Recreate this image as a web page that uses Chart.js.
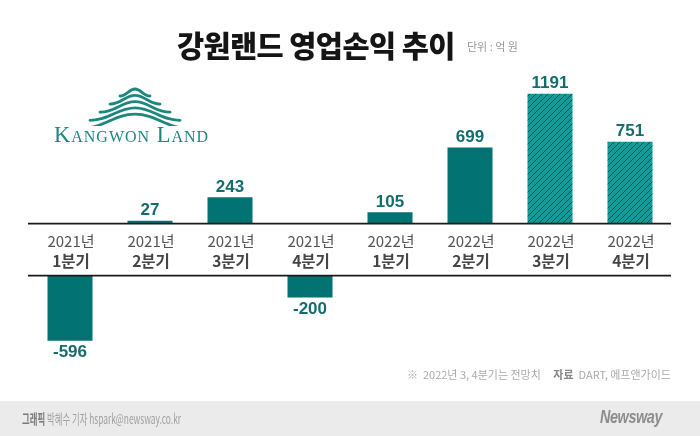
<!DOCTYPE html>
<html><head><meta charset="utf-8">
<script src="https://cdn.jsdelivr.net/npm/chart.js@4/dist/chart.umd.min.js"></script>
<style>
html,body{margin:0;padding:0;background:#fff;}
#wrap{position:relative;width:700px;height:436px;overflow:hidden;font-family:"Noto Sans CJK KR","Noto Sans",sans-serif;}
#c{position:absolute;left:0;top:0;}
.abs{position:absolute;white-space:nowrap;}
#title{left:177px;top:28px;font-size:29.5px;line-height:32px;font-weight:900;color:#151515;letter-spacing:-0.6px;}
#unit{left:467px;top:38px;font-size:11px;line-height:16px;color:#999;}
#note{left:407px;top:366px;font-size:11px;line-height:16px;color:#aaa;}
#note b{color:#888;font-weight:700;margin-left:10px;}
#footer{left:0;top:401px;width:700px;height:35px;background:#ebebeb;}
#credit{left:22px;top:409px;font-size:13.5px;line-height:18px;color:#a0a0a0;transform:scaleX(0.62);transform-origin:0 50%;}
#credit b{color:#7a7a7a;font-weight:700;}
#brand{left:600px;top:405px;font-family:"Liberation Sans",sans-serif;font-style:italic;font-weight:700;font-size:18px;line-height:24px;color:#8c8c8c;letter-spacing:-0.5px;transform:scaleX(0.8);transform-origin:0 50%;}
#logotext{left:54px;top:122px;font-family:"Liberation Serif","DejaVu Serif",serif;font-variant:small-caps;font-size:22.5px;line-height:26px;color:#1b877e;letter-spacing:1px;}
</style></head>
<body>
<div id="wrap">
  <div class="abs" id="footer"></div>
  <canvas id="c" width="700" height="436"></canvas>
  <div class="abs" id="title">강원랜드 영업손익 추이</div>
  <div class="abs" id="unit">단위 : 억 원</div>
  <svg class="abs" style="left:84px;top:84px" width="102" height="42" viewBox="0 0 102 42">
    <g fill="none" stroke="#1b877e" stroke-width="2.8" stroke-linecap="round" id="waves"></g>
  </svg>
  <div class="abs" id="logotext">Kangwon Land</div>
  <div class="abs" id="note">※&nbsp; 2022년 3, 4분기는 전망치 <b>자료</b>&nbsp; DART, 에프앤가이드</div>
  <div class="abs" id="credit"><b>그래픽</b> 박혜수 기자 hspark@newsway.co.kr</div>
  <div class="abs" id="brand">Newsway</div>
</div>
<script>
// ---- data ----
const years = ['2021년','2021년','2021년','2021년','2022년','2022년','2022년','2022년'];
const quarters = ['1분기','2분기','3분기','4분기','1분기','2분기','3분기','4분기'];
const categories = years.map((y,i)=>y+' '+quarters[i]);
const profit = [-596, 27, 243, -200, 105, 699, 1191, 751];
const forecast = [false,false,false,false,false,false,true,true];

// logo waves
(function(){
  const g=document.getElementById('waves');
  const cx=51;
  for(let i=0;i<5;i++){
    const py=5+i*6.3, ey=py+7+i*1.8, hw=15+i*10;
    const p=document.createElementNS('http://www.w3.org/2000/svg','path');
    p.setAttribute('d',`M${cx-hw} ${ey} C${cx-hw*0.55} ${ey} ${cx-hw*0.4} ${py} ${cx} ${py} C${cx+hw*0.4} ${py} ${cx+hw*0.55} ${ey} ${cx+hw} ${ey}`);
    g.appendChild(p);
  }
})();

const SOLID='#027273', HATCH_BG='#149a9b', HATCH_LINE='#0a4e4f', LABEL='#136d6d';
function makeHatch(){
  const c=document.createElement('canvas');c.width=6;c.height=6;
  const g=c.getContext('2d');
  g.fillStyle=HATCH_BG;g.fillRect(0,0,6,6);
  g.strokeStyle=HATCH_LINE;g.lineWidth=1;
  g.beginPath();g.moveTo(0,6);g.lineTo(6,0);g.moveTo(-1,1);g.lineTo(1,-1);g.moveTo(5,7);g.lineTo(7,5);g.stroke();
  return g.createPattern(c,'repeat');
}
const hatch=makeHatch();
const colorFor = ctx => forecast[ctx.dataIndex] ? hatch : SOLID;

const labelPlugin={
  id:'labels',
  afterDatasetsDraw(chart){
    const ctx=chart.ctx, xs=chart.scales.x, yPos=chart.scales.yPos, yNeg=chart.scales.yNeg;
    const ca=chart.chartArea;
    const z1=yPos.getPixelForValue(0), z2=yNeg.getPixelForValue(0);
    ctx.save();
    ctx.strokeStyle='#1a1a1a';ctx.lineWidth=1.6;
    [z1,z2].forEach(y=>{ctx.beginPath();ctx.moveTo(ca.left-2,y);ctx.lineTo(ca.right+1,y);ctx.stroke();});
    ctx.textAlign='center';ctx.textBaseline='middle';
    categories.forEach((c,i)=>{
      const x=xs.getPixelForValue(i);
      ctx.fillStyle='#555';ctx.font='400 15px "Noto Sans CJK KR"';
      ctx.fillText(years[i],x+1,z1+18);
      ctx.fillStyle='#444';ctx.font='700 15.5px "Noto Sans CJK KR"';
      ctx.fillText(quarters[i],x+1,z1+37);
    });
    ctx.fillStyle=LABEL;ctx.font='bold 17px "Liberation Sans", Arial, sans-serif';
    chart.data.datasets.forEach((ds,di)=>{
      const meta=chart.getDatasetMeta(di);
      meta.data.forEach((bar,i)=>{
        const v=ds.data[i];
        if(v===null||v===undefined) return;
        const y = v>=0 ? bar.y-10 : bar.y+12;
        ctx.fillText(String(v),bar.x,y);
      });
    });
    ctx.restore();
  }
};

new Chart(document.getElementById('c'),{
  type:'bar',
  data:{
    labels:categories,
    datasets:[
      {label:'영업이익',data:profit.map(v=>v>=0?v:null),yAxisID:'yPos',backgroundColor:colorFor,grouped:false},
      {label:'영업손실',data:profit.map(v=>v<0?v:null),yAxisID:'yNeg',backgroundColor:colorFor,grouped:false}
    ]
  },
  options:{
    responsive:false,animation:false,devicePixelRatio:1,
    barPercentage:0.5625,categoryPercentage:1,
    layout:{padding:{left:30,right:30,top:71,bottom:84}},
    plugins:{legend:{display:false},tooltip:{enabled:false}},
    scales:{
      x:{display:false},
      yNeg:{display:false,position:'left',stack:'v',stackWeight:76.3,weight:1,min:-700,max:0},
      yGap:{display:false,position:'left',stack:'v',stackWeight:52,weight:2,min:0,max:1},
      yPos:{display:false,position:'left',stack:'v',stackWeight:152.6,weight:3,min:0,max:1400}
    }
  },
  plugins:[labelPlugin]
});
</script>
</body></html>
